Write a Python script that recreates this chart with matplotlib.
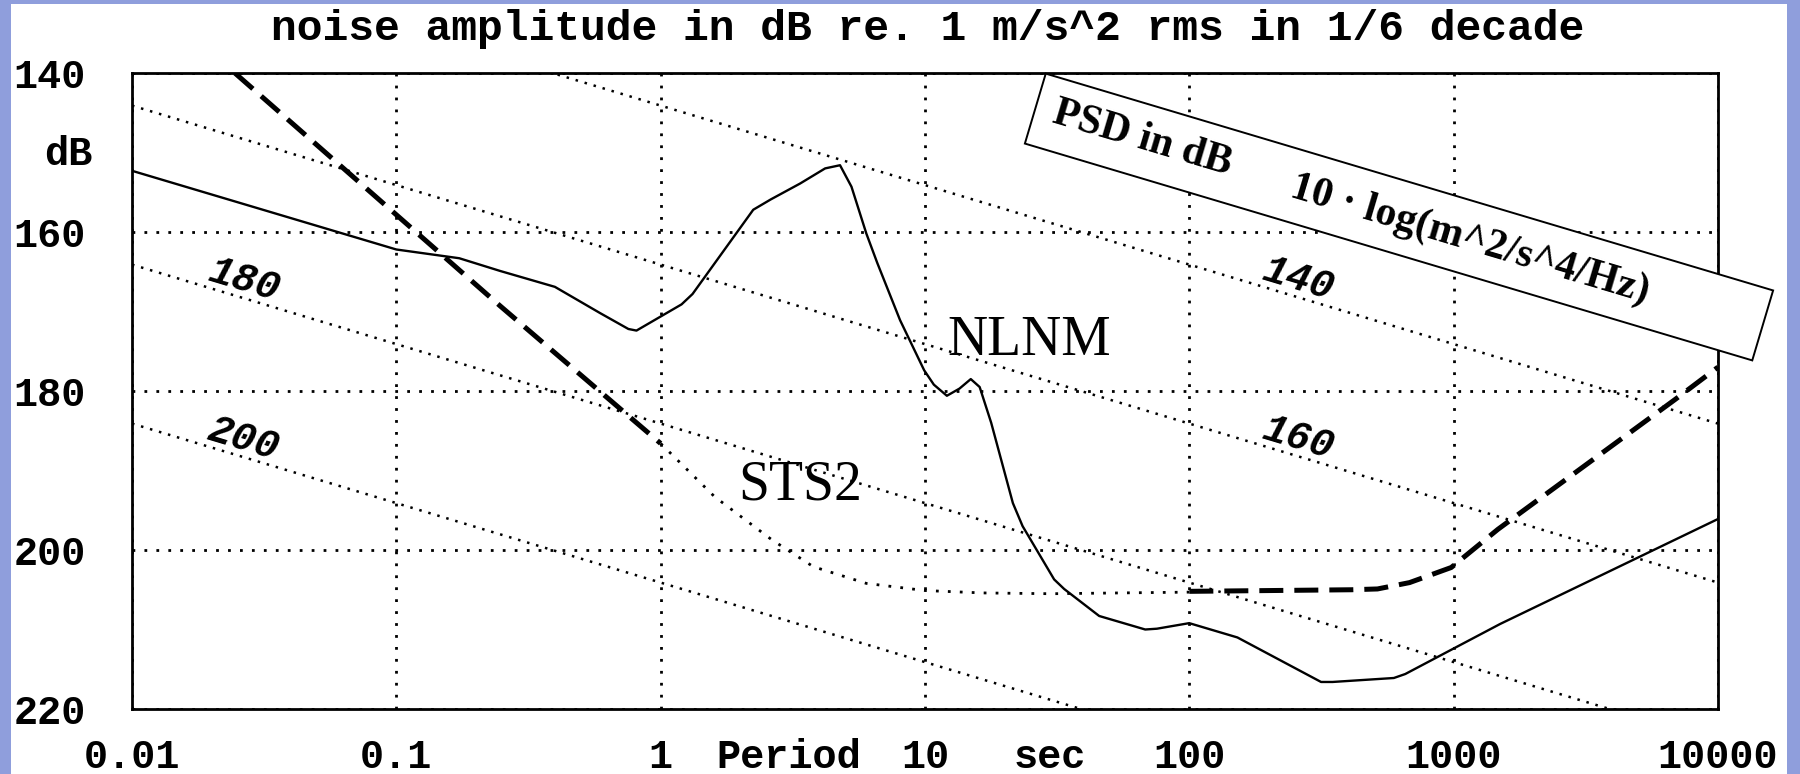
import numpy as np
import matplotlib
matplotlib.use("Agg")
import matplotlib.pyplot as plt
from matplotlib.patches import Polygon, Rectangle

# ---- data -------------------------------------------------------------
# New Low Noise Model, amplitude in dB (re 1 m/s^2 rms, 1/6 decade)
nlnm_period = [0.01, 0.1, 0.173, 0.247, 0.398, 0.59, 0.755, 0.81, 1.20, 1.32,
               2.24, 2.61, 3.37, 4.19, 4.77, 5.27, 6.0, 6.6, 8.05, 9.93, 10.8,
               12.1, 13.5, 14.9, 16.1, 17.8, 21.5, 23.4, 30.8, 33.6, 45.6,
               68.1, 75.4, 99.9, 152, 315, 348, 594, 656, 1500, 10000]
nlnm_db = [152.3, 162.2, 163.3, 164.9, 166.9, 170.2, 172.2, 172.4, 169.1, 167.8,
           157.2, 155.9, 153.9, 152.0, 151.6, 154.3, 160.2, 163.9, 171.1, 177.4, 179.2,
           180.6, 179.7, 178.5, 179.5, 184.0, 194.1, 197.0, 203.7, 204.9, 208.3,
           210.0, 209.9, 209.2, 211.0, 216.6, 216.6, 216.1, 215.6, 209.3, 196.1]

# STS2 self noise: short-period branch, mid band, long-period branch
sts2_short_period = [0.0245, 0.247, 1.0]
sts2_short_db = [140.0, 169.3, 186.6]
sts2_mid_period = [1.0, 1.6, 2.63, 3.78, 6.0, 10.0, 16.5, 30.0, 100.0]
sts2_mid_db = [186.6, 193.3, 198.7, 202.1, 204.2, 205.1, 205.4, 205.5, 205.3]
sts2_long_period = [100.0, 410.0, 515.0, 681.0, 979.0, 1470.0, 6860.0, 10000.0]
sts2_long_db = [205.2, 205.0, 204.9, 204.1, 202.2, 197.4, 181.1, 177.0]

# lines of constant PSD: level, value at 0.01 s, value at 10000 s
psd_levels = [140, 160, 180, 200]
psd_left_db = [124.1, 144.1, 164.1, 184.1]
psd_right_db = [184.1, 204.1, 224.1, 244.1]
psd_label_period = [257.0, 257.0, 0.0265, 0.0265]

x_ticks = [0.01, 0.1, 1, 10, 100, 1000, 10000]
x_tick_labels = ["0.01", "0.1", "1", "10", "100", "1000", "10000"]
x_unit_pos = [3.05, 29.7]
x_unit_labels = ["Period", "sec"]
y_ticks = [140, 160, 180, 200, 220]
y_tick_labels = ["140", "160", "180", "200", "220"]

title = "noise amplitude in dB re. 1 m/s^2 rms in 1/6 decade"

# ---- figure -----------------------------------------------------------
W, H = 1800, 774
fig = plt.figure(figsize=(W / 100, H / 100), dpi=100)
fig.patch.set_facecolor("#8f9edc")
fig.add_artist(Rectangle((11 / W, 0), (1787 - 11) / W, (H - 4) / H,
                         transform=fig.transFigure, facecolor="white",
                         edgecolor="none", zorder=-10))

ax = fig.add_axes([132 / W, 1 - 709 / H, (1718 - 132) / W, (709 - 73) / H])
ax.set_xscale("log")
ax.set_xlim(0.01, 10000)
ax.set_ylim(220, 140)

mono = "Liberation Mono"
serif = "Liberation Serif"

ax.set_xticks(x_ticks, labels=x_tick_labels)
ax.set_xticks(x_unit_pos, labels=x_unit_labels, minor=True)
ax.set_yticks(y_ticks, labels=y_tick_labels)
for lab in ax.get_xticklabels(which="both") + ax.get_yticklabels():
    lab.set_fontfamily(mono)
    lab.set_fontweight("bold")
    lab.set_fontsize(29)
ax.tick_params(axis="x", which="both", length=0, pad=21)
ax.tick_params(axis="y", length=0, pad=33)
ax.tick_params(axis="y", which="minor", length=0)

for sp in ax.spines.values():
    sp.set_linewidth(2.0)
    sp.set_color("black")

ax.grid(True, which="major", color="black", linestyle=(0, (1, 3.3)),
        linewidth=2.0)
ax.set_axisbelow(True)

# constant-PSD reference lines
dotted_fine = (0, (1, 2.75))
for lvl, yl, yr, tp in zip(psd_levels, psd_left_db, psd_right_db, psd_label_period):
    ax.plot([0.01, 10000], [yl, yr], color="black", linestyle=dotted_fine,
            linewidth=1.8, zorder=1)
    p1 = ax.transData.transform((0.01, yl))
    p2 = ax.transData.transform((10000, yr))
    ang = np.degrees(np.arctan2(p2[1] - p1[1], p2[0] - p1[0]))
    frac = (np.log10(tp) + 2) / 6
    y_line = yl + (yr - yl) * frac
    ax.text(tp, y_line - 2.3, str(lvl), rotation=ang, rotation_mode="anchor",
            ha="center", va="center", fontfamily=mono, fontweight="bold",
            fontstyle="italic", fontsize=29, zorder=3)

# curves
ax.plot(nlnm_period, nlnm_db, color="black", linewidth=1.7, zorder=4)
ax.plot(sts2_short_period, sts2_short_db, color="black", linewidth=3.6,
        linestyle=(0, (4.8, 2.2)), zorder=4)
ax.plot(sts2_mid_period, sts2_mid_db, color="black", linewidth=2.0,
        linestyle=(0, (1, 3.3)), zorder=4)
ax.plot(sts2_long_period, sts2_long_db, color="black", linewidth=3.6,
        linestyle=(0, (4.8, 2.2)), zorder=4)

ax.text(12.1, 175.5, "NLNM", fontfamily=serif, fontsize=40, ha="left",
        va="baseline", zorder=5)
ax.text(1.96, 193.7, "STS2", fontfamily=serif, fontsize=40, ha="left",
        va="baseline", zorder=5)

# title and axis unit
fig.text(928 / W, 1 - 40 / H, title, ha="center", va="baseline",
         fontfamily=mono, fontweight="bold", fontsize=31)
fig.text(92 / W, 1 - 154 / H, "dB", ha="right", va="center",
         fontfamily=mono, fontweight="bold", fontsize=29)

# rotated caption box (pixel geometry, y measured downward)
cx, cy, bw, bh, a_deg = 1399.0, 217.0, 759.0, 73.0, 16.6
a = np.radians(a_deg)
u = np.array([np.cos(a), np.sin(a)])
n = np.array([-np.sin(a), np.cos(a)])
c = np.array([cx, cy])
corners = [c - u * bw / 2 - n * bh / 2, c + u * bw / 2 - n * bh / 2,
           c + u * bw / 2 + n * bh / 2, c - u * bw / 2 + n * bh / 2]
corners_fig = [(p[0] / W, 1 - p[1] / H) for p in corners]
fig.add_artist(Polygon(corners_fig, closed=True, transform=fig.transFigure,
                       facecolor="white", edgecolor="black", linewidth=1.4,
                       zorder=6))
fig.text(1142 / W, 1 - 139 / H, "PSD in dB", rotation=-a_deg,
         rotation_mode="anchor", ha="center", va="center",
         fontfamily=serif, fontweight="bold", fontsize=30, zorder=7)
fig.text(1470 / W, 1 - 240 / H, "10 \u00b7 log(m^2/s^4/Hz)", rotation=-a_deg,
         rotation_mode="anchor", ha="center", va="center",
         fontfamily=serif, fontweight="bold", fontsize=30, zorder=7)

fig.savefig("out.png", dpi=100, facecolor=fig.get_facecolor())
